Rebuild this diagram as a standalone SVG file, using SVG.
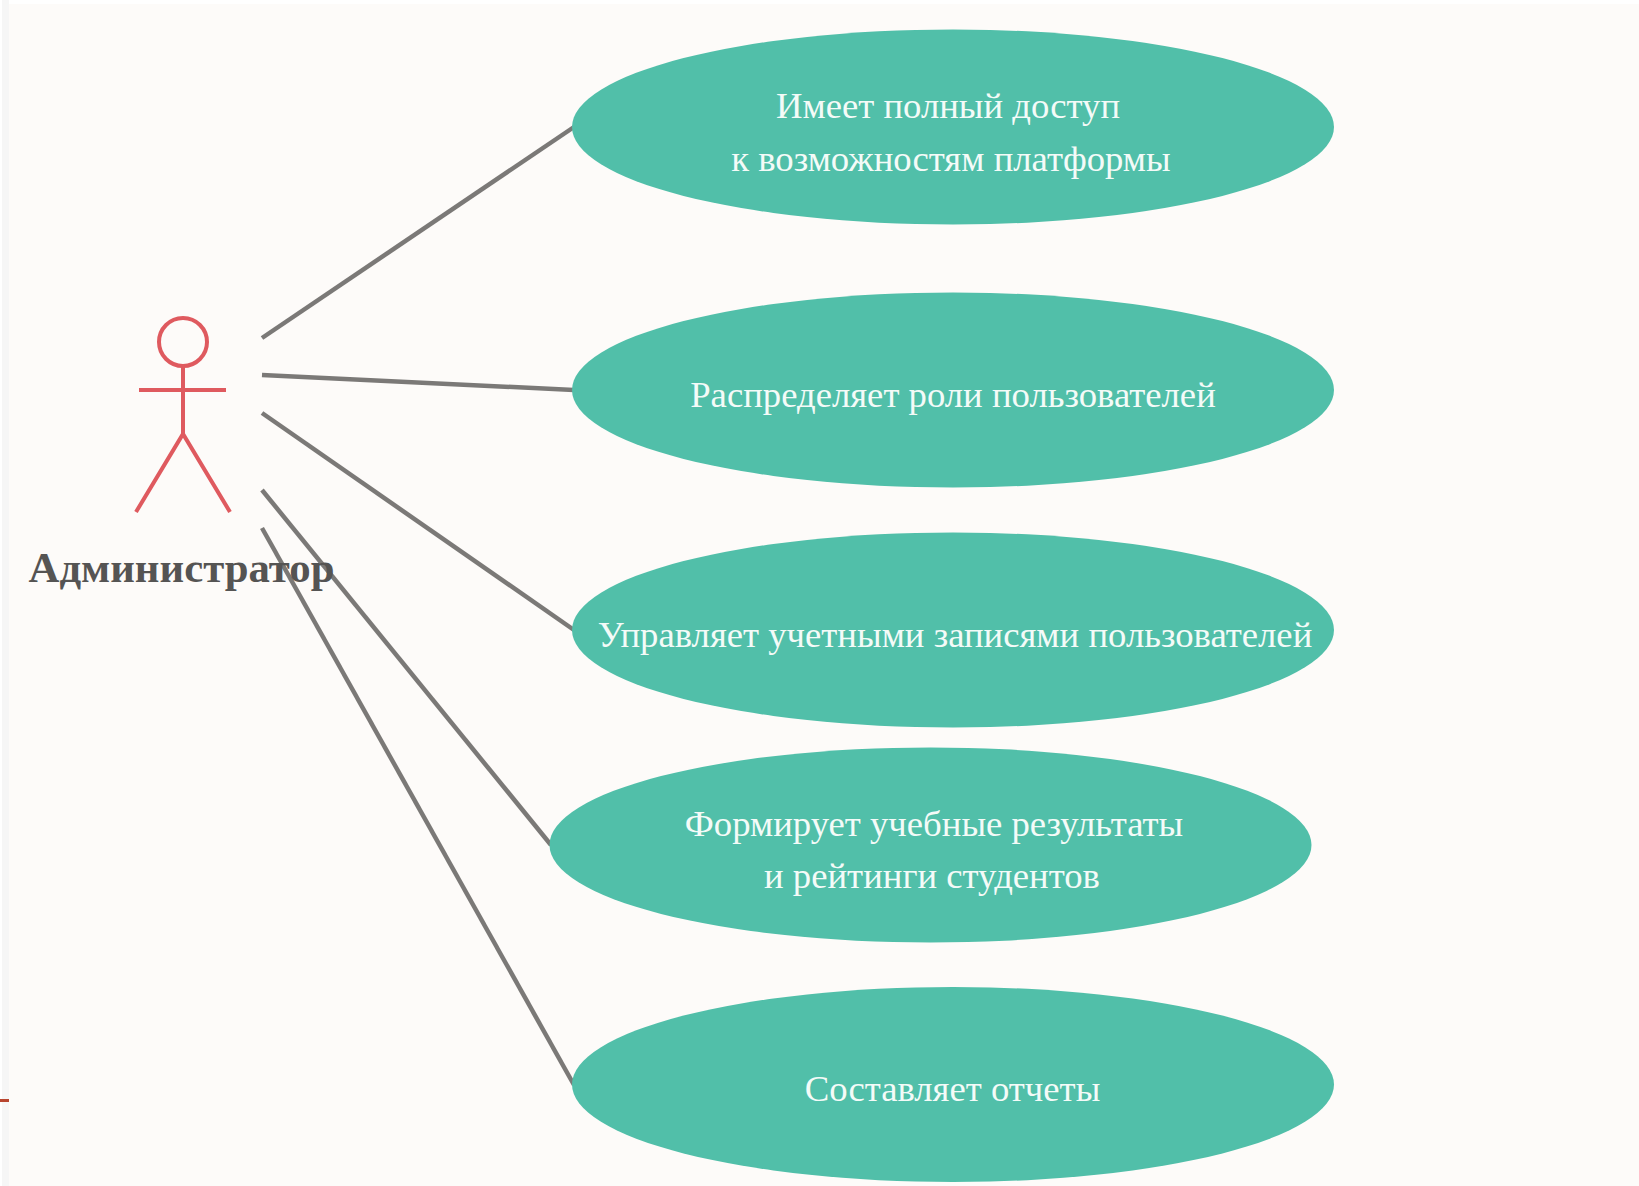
<svg xmlns="http://www.w3.org/2000/svg" width="1639" height="1186" viewBox="0 0 1639 1186">
<style>
.uc{fill:#51bfa9}
.t{font-family:"Liberation Serif","Times New Roman",serif;font-size:36.7px;fill:#f4fbf8;text-anchor:middle}
.c{stroke:#7b7977;stroke-width:4.5;fill:none}
.a{stroke:#df5a5f;stroke-width:4;fill:none}
</style>
<rect width="1639" height="1186" fill="#ffffff"/>
<rect x="2" y="0" width="7" height="1186" fill="#f6f6f6"/>
<rect x="9" y="4" width="1630" height="1182" fill="#fdfbf9"/>
<rect x="0" y="1099" width="9" height="3" fill="#b8452f"/>
<g id="connectors">
<line class="c" x1="262" y1="338" x2="574" y2="127"/>
<line class="c" x1="262" y1="375" x2="574" y2="390"/>
<line class="c" x1="262" y1="413" x2="574" y2="630"/>
<line class="c" x1="262" y1="490" x2="551" y2="845"/>
<line class="c" x1="262" y1="528" x2="574" y2="1085"/>
</g>
<g id="actor">
<circle class="a" cx="183" cy="342" r="24"/>
<line class="a" x1="183" y1="366" x2="183" y2="434"/>
<line class="a" x1="139" y1="390" x2="226" y2="390"/>
<polyline class="a" points="136,512 183,434 230,512"/>
<text x="181.500" y="582" font-family="'Liberation Serif','Times New Roman',serif" font-size="42.8" font-weight="bold" fill="#555453" text-anchor="middle">Администратор</text>
</g>
<g id="uc1"><ellipse class="uc" cx="953" cy="127" rx="381" ry="97.5"/><text class="t" x="948" y="118">Имеет полный доступ</text><text class="t" x="951" y="171">к возможностям платформы</text></g>
<g id="uc2"><ellipse class="uc" cx="953" cy="390" rx="381" ry="97.5"/><text class="t" x="953" y="407">Распределяет роли пользователей</text></g>
<g id="uc3"><ellipse class="uc" cx="953" cy="630" rx="381" ry="97.5"/><text class="t" x="955" y="647">Управляет учетными записями пользователей</text></g>
<g id="uc4"><ellipse class="uc" cx="930.500" cy="845" rx="381" ry="97.500"/><text class="t" x="934" y="836">Формирует учебные результаты</text><text class="t" x="932" y="888">и рейтинги студентов</text></g>
<g id="uc5"><ellipse class="uc" cx="953" cy="1084.500" rx="381" ry="97.500"/><text class="t" x="952.500" y="1101">Составляет отчеты</text></g>
</svg>
